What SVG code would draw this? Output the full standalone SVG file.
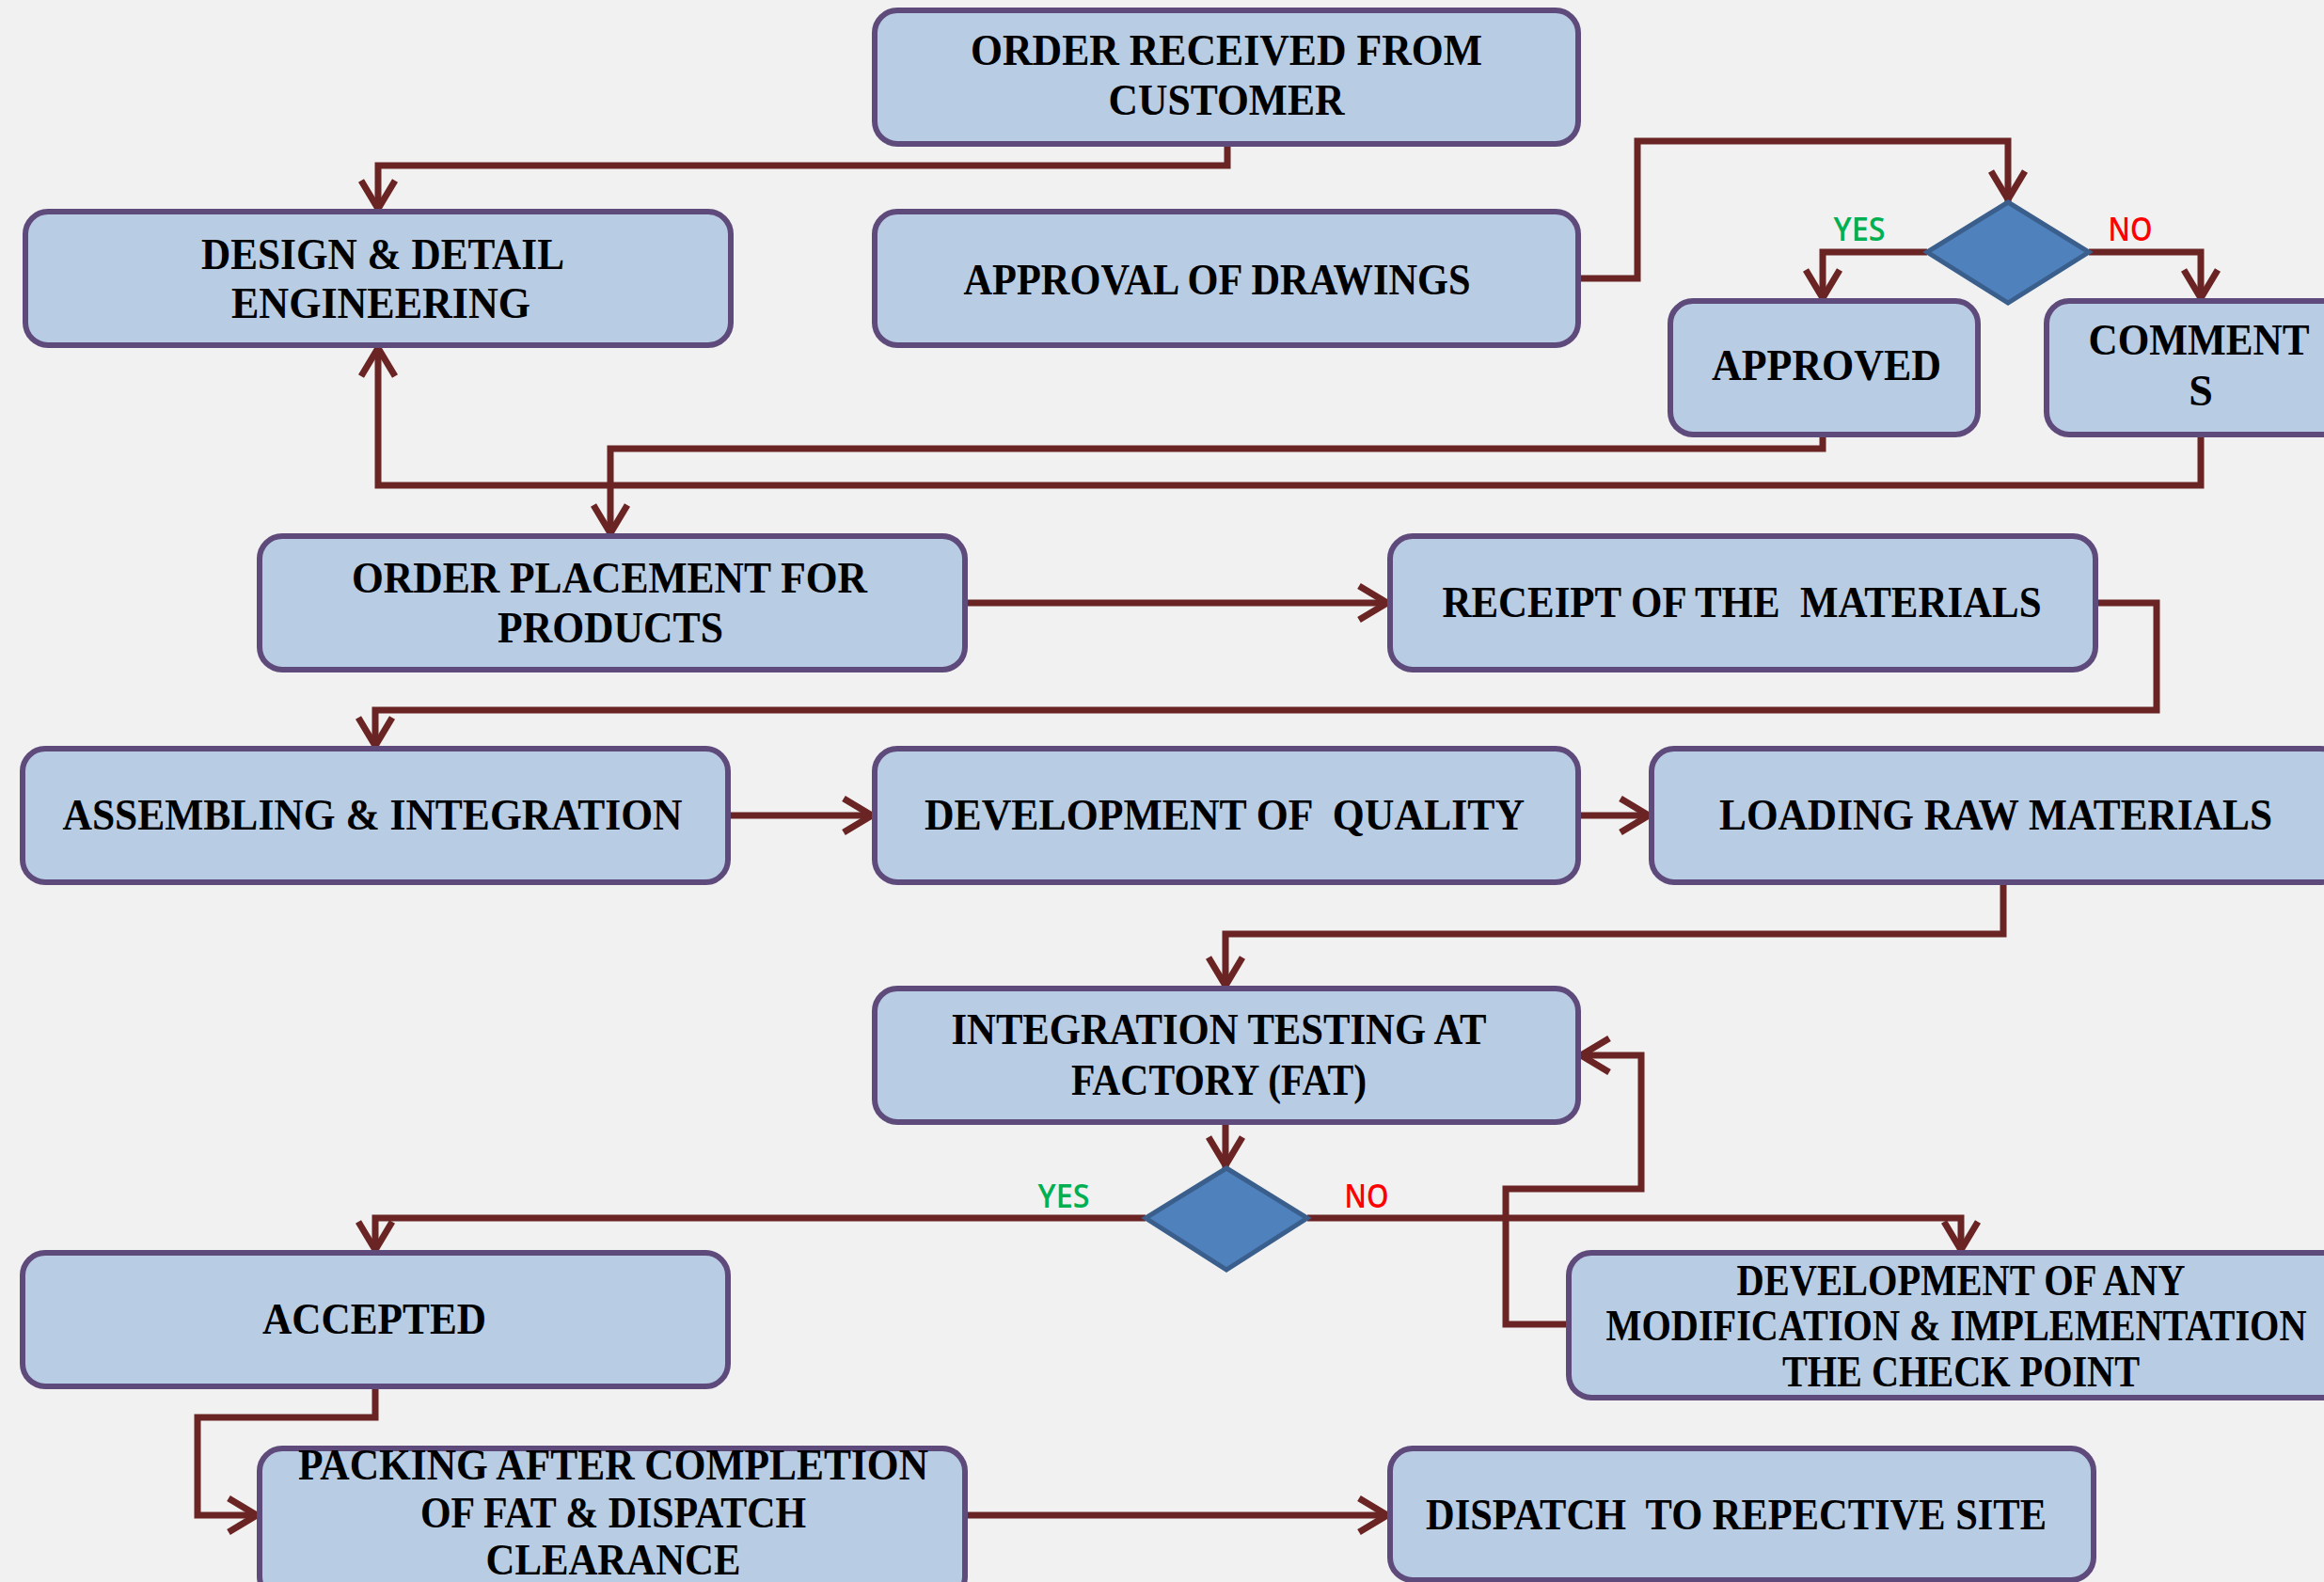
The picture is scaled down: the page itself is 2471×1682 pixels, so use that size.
<svg xmlns="http://www.w3.org/2000/svg" width="2471" height="1682" viewBox="0 0 2471 1682">
<defs>
<style>
.box{fill:#B8CCE4;stroke:#5E4A7B;stroke-width:6}
.dia{fill:#4F81BD;stroke:#3A5F8C;stroke-width:5}
.t{font-family:"Liberation Serif","Times New Roman",serif;font-weight:bold;font-size:46px;fill:#000;text-anchor:middle}
.c{fill:none;stroke:#6B2424;stroke-width:7}
.yes{font-family:"Open Sans","Liberation Sans",sans-serif;font-weight:600;font-size:35px;fill:#00B050;text-anchor:middle}
.no{font-family:"Open Sans","Liberation Sans",sans-serif;font-weight:600;font-size:35px;fill:#FF0000;text-anchor:middle}
</style>
<marker id="arr" markerUnits="userSpaceOnUse" markerWidth="50" markerHeight="50" viewBox="-40 -25 50 50" refX="0" refY="0" orient="auto" overflow="visible">
<path d="M-33,-18 L-3,0 L-33,18" fill="none" stroke="#6B2424" stroke-width="7"/>
</marker>
</defs>
<rect x="0" y="0" width="2471" height="1682" fill="#F1F1F1"/>

<g id="connectors">
<path class="c" d="M1305,153 V176 H402 V225" marker-end="url(#arr)"/>
<path class="c" d="M1678,296 H1741 V150 H2135 V215" marker-end="url(#arr)"/>
<path class="c" d="M2049,268 H1938 V320" marker-end="url(#arr)"/>
<path class="c" d="M2221,268 H2340 V320" marker-end="url(#arr)"/>
<path class="c" d="M1938,462 V477 H649 V570" marker-end="url(#arr)"/>
<path class="c" d="M2340,462 V516 H402 V367" marker-end="url(#arr)"/>
<path class="c" d="M1026,641 H1478" marker-end="url(#arr)"/>
<path class="c" d="M2228,641 H2293 V755 H399 V796" marker-end="url(#arr)"/>
<path class="c" d="M774,867 H930" marker-end="url(#arr)"/>
<path class="c" d="M1678,867 H1756" marker-end="url(#arr)"/>
<path class="c" d="M2130,938 V993 H1303 V1051" marker-end="url(#arr)"/>
<path class="c" d="M1303,1193 V1242" marker-end="url(#arr)"/>
<path class="c" d="M1218,1295 H399 V1332" marker-end="url(#arr)"/>
<path class="c" d="M1390,1295 H2085 V1332" marker-end="url(#arr)"/>
<path class="c" d="M1668,1408 H1601 V1264 H1745 V1122 H1678" marker-end="url(#arr)"/>
<path class="c" d="M399,1474 V1507 H210 V1611 H276" marker-end="url(#arr)"/>
<path class="c" d="M1026,1611 H1478" marker-end="url(#arr)"/>
<text class="yes" x="1977" y="256" textLength="55" lengthAdjust="spacingAndGlyphs">YES</text>
<text class="no" x="2265" y="256" textLength="47" lengthAdjust="spacingAndGlyphs">NO</text>
<text class="yes" x="1131" y="1284" textLength="55" lengthAdjust="spacingAndGlyphs">YES</text>
<text class="no" x="1453" y="1284" textLength="47" lengthAdjust="spacingAndGlyphs">NO</text>
</g>

<g id="order-received">
<rect class="box" x="930" y="11" width="748" height="142" rx="24"/>
<text class="t" x="1304" y="69" textLength="544" lengthAdjust="spacingAndGlyphs">ORDER RECEIVED FROM</text>
<text class="t" x="1304" y="122" textLength="251" lengthAdjust="spacingAndGlyphs">CUSTOMER</text>
</g>

<g id="design">
<rect class="box" x="27" y="225" width="750" height="142" rx="24"/>
<text class="t" x="407" y="286" textLength="386" lengthAdjust="spacingAndGlyphs">DESIGN &amp; DETAIL</text>
<text class="t" x="405" y="338" textLength="318" lengthAdjust="spacingAndGlyphs">ENGINEERING</text>
</g>

<g id="approval">
<rect class="box" x="930" y="225" width="748" height="142" rx="24"/>
<text class="t" x="1294" y="313" textLength="539" lengthAdjust="spacingAndGlyphs">APPROVAL OF DRAWINGS</text>
</g>

<g id="decision-1">
<polygon class="dia" points="2135,215 2221,268 2135,322 2049,268"/>
</g>

<g id="approved">
<rect class="box" x="1776" y="320" width="327" height="142" rx="24"/>
<text class="t" x="1942" y="404" textLength="244" lengthAdjust="spacingAndGlyphs">APPROVED</text>
</g>

<g id="comments">
<rect class="box" x="2176" y="320" width="330" height="142" rx="24"/>
<text class="t" x="2338" y="377" textLength="235" lengthAdjust="spacingAndGlyphs">COMMENT</text>
<text class="t" x="2340" y="431">S</text>
</g>

<g id="order-placement">
<rect class="box" x="276" y="570" width="750" height="142" rx="24"/>
<text class="t" x="648" y="630" textLength="548" lengthAdjust="spacingAndGlyphs">ORDER PLACEMENT FOR</text>
<text class="t" x="649" y="683" textLength="240" lengthAdjust="spacingAndGlyphs">PRODUCTS</text>
</g>

<g id="receipt">
<rect class="box" x="1478" y="570" width="750" height="142" rx="24"/>
<text class="t" x="1852" y="656" textLength="637" lengthAdjust="spacingAndGlyphs" xml:space="preserve">RECEIPT OF THE  MATERIALS</text>
</g>

<g id="assembling">
<rect class="box" x="24" y="796" width="750" height="142" rx="24"/>
<text class="t" x="396" y="882" textLength="659" lengthAdjust="spacingAndGlyphs">ASSEMBLING &amp; INTEGRATION</text>
</g>

<g id="dev-quality">
<rect class="box" x="930" y="796" width="748" height="142" rx="24"/>
<text class="t" x="1302" y="882" textLength="638" lengthAdjust="spacingAndGlyphs" xml:space="preserve">DEVELOPMENT OF  QUALITY</text>
</g>

<g id="loading">
<rect class="box" x="1756" y="796" width="735" height="142" rx="24"/>
<text class="t" x="2122" y="882" textLength="588" lengthAdjust="spacingAndGlyphs">LOADING RAW MATERIALS</text>
</g>

<g id="fat">
<rect class="box" x="930" y="1051" width="748" height="142" rx="24"/>
<text class="t" x="1296" y="1110" textLength="569" lengthAdjust="spacingAndGlyphs">INTEGRATION TESTING AT</text>
<text class="t" x="1296" y="1164" textLength="314" lengthAdjust="spacingAndGlyphs">FACTORY (FAT)</text>
</g>

<g id="decision-2">
<polygon class="dia" points="1304,1242 1390,1295 1304,1350 1218,1295"/>
</g>

<g id="accepted">
<rect class="box" x="24" y="1332" width="750" height="142" rx="24"/>
<text class="t" x="398" y="1418" textLength="238" lengthAdjust="spacingAndGlyphs">ACCEPTED</text>
</g>

<g id="modification">
<rect class="box" x="1668" y="1332" width="830" height="154" rx="24"/>
<text class="t" x="2085" y="1377" textLength="477" lengthAdjust="spacingAndGlyphs">DEVELOPMENT OF ANY</text>
<text class="t" x="2080" y="1425" textLength="745" lengthAdjust="spacingAndGlyphs">MODIFICATION &amp; IMPLEMENTATION</text>
<text class="t" x="2085" y="1474" textLength="380" lengthAdjust="spacingAndGlyphs">THE CHECK POINT</text>
</g>

<g id="packing">
<rect class="box" x="276" y="1540" width="750" height="160" rx="24"/>
<text class="t" x="652" y="1573" textLength="670" lengthAdjust="spacingAndGlyphs">PACKING AFTER COMPLETION</text>
<text class="t" x="652" y="1624" textLength="410" lengthAdjust="spacingAndGlyphs">OF FAT &amp; DISPATCH</text>
<text class="t" x="652" y="1674" textLength="271" lengthAdjust="spacingAndGlyphs">CLEARANCE</text>
</g>

<g id="dispatch">
<rect class="box" x="1478" y="1540" width="748" height="140" rx="24"/>
<text class="t" x="1846" y="1626" textLength="660" lengthAdjust="spacingAndGlyphs" xml:space="preserve">DISPATCH  TO REPECTIVE SITE</text>
</g>
</svg>
